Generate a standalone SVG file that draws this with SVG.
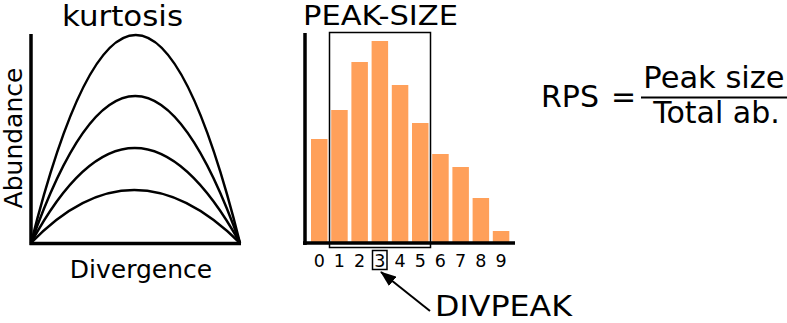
<svg xmlns="http://www.w3.org/2000/svg" width="787" height="323" viewBox="0 0 787 323">
<style>
text{font-family:"DejaVu Sans","Liberation Sans",sans-serif;fill:#000}
.curve{fill:none;stroke:#000;stroke-width:2.5}
.axis{stroke:#000;stroke-width:3.5;fill:none}
.bar{fill:#ffa05a}
.box{fill:none;stroke:#000;stroke-width:1.5}
.num{font-size:17.5px;text-anchor:middle}
</style>
<defs>
<marker id="ah" markerUnits="userSpaceOnUse" markerWidth="16" markerHeight="12" refX="15" refY="6" orient="auto">
<path d="M0,0 L16,6 L0,12 Z" fill="#000"/>
</marker>
</defs>
<g id="kurtosis-plot">
<text x="122.5" y="26" font-size="28" text-anchor="middle" textLength="121" lengthAdjust="spacingAndGlyphs">kurtosis</text>
<text transform="translate(22,138) rotate(-90)" font-size="25" text-anchor="middle">Abundance</text>
<text x="141" y="278" font-size="25" text-anchor="middle">Divergence</text>
<path class="curve" d="M31,243 Q136,-173 240,243"/>
<path class="curve" d="M31,243 Q135,-51 240,243"/>
<path class="curve" d="M31,243 Q134,53 240,243"/>
<path class="curve" d="M31,243 Q133,137 240,243"/>
<path class="axis" d="M31,34 V245 M29.5,243.5 H241"/>
</g>
<g id="peak-size-plot">
<text x="303" y="25" font-size="27" textLength="155" lengthAdjust="spacingAndGlyphs">PEAK-SIZE</text>
<rect class="bar" x="311" y="139" width="16.5" height="104"/>
<rect class="bar" x="331.2" y="110" width="16.5" height="133"/>
<rect class="bar" x="351.4" y="62" width="16.5" height="181"/>
<rect class="bar" x="371.6" y="41" width="16.5" height="202"/>
<rect class="bar" x="391.8" y="85" width="16.5" height="158"/>
<rect class="bar" x="412" y="123" width="16.5" height="120"/>
<rect class="bar" x="432.2" y="154" width="16.5" height="89"/>
<rect class="bar" x="452.4" y="167" width="16.5" height="76"/>
<rect class="bar" x="472.6" y="198" width="16.5" height="45"/>
<rect class="bar" x="492.8" y="231" width="16.5" height="12"/>
<path class="axis" d="M305,33 V245 M303,243 H515"/>
<rect class="box" x="329.5" y="32.5" width="101" height="215"/>
<text class="num" x="319.2" y="266.5">0</text>
<text class="num" x="339.4" y="266.5">1</text>
<text class="num" x="359.6" y="266.5">2</text>
<text class="num" x="379.8" y="266.5">3</text>
<text class="num" x="400" y="266.5">4</text>
<text class="num" x="420.2" y="266.5">5</text>
<text class="num" x="440.4" y="266.5">6</text>
<text class="num" x="460.6" y="266.5">7</text>
<text class="num" x="480.8" y="266.5">8</text>
<text class="num" x="501" y="266.5">9</text>
<rect class="box" x="372.5" y="250.5" width="14.5" height="19"/>
</g>
<g id="divpeak">
<text x="435" y="316" font-size="29" textLength="137" lengthAdjust="spacingAndGlyphs">DIVPEAK</text>
</g>
<g id="connectors">
<line x1="430" y1="311" x2="381" y2="272" stroke="#000" stroke-width="2" marker-end="url(#ah)"/>
</g>
<g id="rps-formula">
<text x="541" y="107" font-size="30">RPS</text>
<text x="611" y="107" font-size="30">=</text>
<text x="714" y="88" font-size="30.5" text-anchor="middle">Peak size</text>
<line x1="641" y1="97.5" x2="787" y2="97.5" stroke="#000" stroke-width="2.2"/>
<text x="716.5" y="123" font-size="30" text-anchor="middle">Total ab.</text>
</g>
</svg>
